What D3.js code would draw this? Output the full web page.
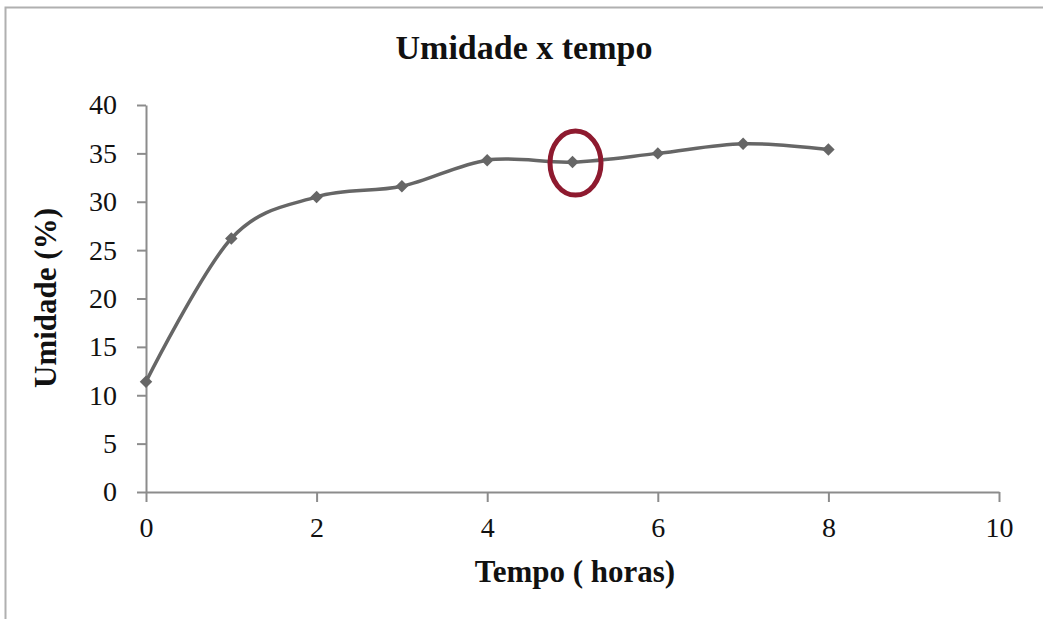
<!DOCTYPE html>
<html>
<head>
<meta charset="utf-8">
<script src="https://cdn.jsdelivr.net/npm/d3@7"></script>
<style>
  html, body { margin: 0; padding: 0; background: #fff; }
  svg { display: block; font-family: "Liberation Serif", "Times New Roman", serif; }
</style>
</head>
<body>
<div id="chart"></div>
<script>
// data
const hours = [0, 1, 2, 3, 4, 5, 6, 7, 8];
const umidade = [11.4, 26.2, 30.5, 31.6, 34.3, 34.1, 35.0, 36.0, 35.4];
const xTicks = [0, 2, 4, 6, 8, 10];
const yTicks = [0, 5, 10, 15, 20, 25, 30, 35, 40];
const highlightHour = 5;

const width = 1043;
const height = 619;
const margin = { left: 146, right: 44, top: 105, bottom: 127 };

const svg = d3.select("#chart")
  .append("svg")
  .attr("width", width)
  .attr("height", height);

// outer frame (cut off right and bottom like the screenshot)
svg.append("rect")
  .attr("x", 5.5)
  .attr("y", 7.5)
  .attr("width", width + 20)
  .attr("height", height + 20)
  .attr("fill", "none")
  .attr("stroke", "#b0b0b0")
  .attr("stroke-width", 2);

const xScale = d3.scaleLinear().domain([0, 10]).range([margin.left, width - margin.right]);
const yScale = d3.scaleLinear().domain([0, 40]).range([height - margin.bottom, margin.top]);

const axisColor = "#8c8c8c";

const yAxis = svg.append("g")
  .attr("transform", `translate(${xScale(0)},0)`)
  .call(d3.axisLeft(yScale).tickValues(yTicks).tickSize(9).tickSizeOuter(0).tickPadding(20));

const xAxis = svg.append("g")
  .attr("transform", `translate(0,${yScale(0)})`)
  .call(d3.axisBottom(xScale).tickValues(xTicks).tickSize(10).tickSizeOuter(0).tickPadding(15));

[xAxis, yAxis].forEach(ax => {
  ax.select(".domain").attr("stroke", axisColor).attr("stroke-width", 2);
  ax.selectAll(".tick line").attr("stroke", axisColor).attr("stroke-width", 2);
  ax.selectAll(".tick text")
    .attr("fill", "#111")
    .style("font-size", "28px")
    .style("font-family", "'Liberation Serif', 'Times New Roman', serif");
});

const line = d3.line()
  .x((d, i) => xScale(hours[i]))
  .y(d => yScale(d))
  .curve(d3.curveCardinal.tension(0));

svg.append("path")
  .datum(umidade)
  .attr("fill", "none")
  .attr("stroke", "#666666")
  .attr("stroke-width", 3.5)
  .attr("d", line);

svg.selectAll(".pt")
  .data(umidade)
  .enter()
  .append("path")
  .attr("class", "pt")
  .attr("transform", (d, i) => `translate(${xScale(hours[i])},${yScale(d)}) rotate(45)`)
  .attr("d", d3.symbol().type(d3.symbolSquare).size(78))
  .attr("fill", "#666666");

// red highlight ellipse around hour 5
const hi = hours.indexOf(highlightHour);
svg.append("ellipse")
  .attr("cx", xScale(highlightHour) + 3)
  .attr("cy", yScale(umidade[hi]) + 1)
  .attr("rx", 25.5)
  .attr("ry", 32)
  .attr("fill", "none")
  .attr("stroke", "#8e1a2f")
  .attr("stroke-width", 5);

svg.append("text")
  .attr("x", 524)
  .attr("y", 59)
  .attr("text-anchor", "middle")
  .attr("font-weight", "bold")
  .attr("font-size", 34)
  .attr("fill", "#111")
  .text("Umidade x tempo");

svg.append("text")
  .attr("x", 575)
  .attr("y", 582)
  .attr("text-anchor", "middle")
  .attr("font-weight", "bold")
  .attr("font-size", 31)
  .attr("fill", "#111")
  .text("Tempo ( horas)");

svg.append("text")
  .attr("transform", "translate(56,298) rotate(-90)")
  .attr("text-anchor", "middle")
  .attr("font-weight", "bold")
  .attr("font-size", 31)
  .attr("fill", "#111")
  .text("Umidade (%)");
</script>
</body>
</html>
